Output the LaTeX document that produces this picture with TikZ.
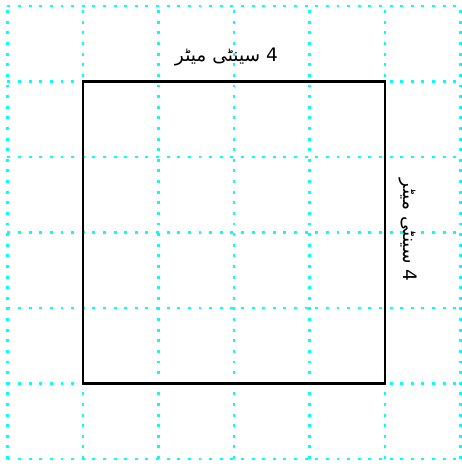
\documentclass[tikz,border=0pt]{standalone}
\usepackage{fontspec}
\newfontfamily\urdufont[Script=Arabic]{DejaVu Sans}
\TeXXeTstate=1
\definecolor{gridcyan}{RGB}{0,255,255}
\begin{document}
\begin{tikzpicture}[
        scale=1,
        thick,
        font=\urdufont\fontsize{7}{8}\selectfont
    ]
    \tikzset{
        gridline/.style = {gridcyan, line width=1.1pt, dash pattern=on 1.1pt off 2.9pt},
        squareline/.style = {black, line width=1.1pt},
        sidelabel/.style = {inner sep=1pt},
    }
    \useasboundingbox (-0.099,-0.119) rectangle (6.007,6.079);
    %
    \draw[gridline] (0,0) grid (6,6);
    \draw[squareline] (1,1) rectangle (5,5);
    %
    \node[sidelabel] at (2.9,5.32) (top) {\beginR 4 سینٹی میٹر\endR};
    \node[sidelabel, rotate=-90] at (5.30,3.03) (right) {\beginR 4 سینٹی میٹر\endR};
\end{tikzpicture}
\end{document}
